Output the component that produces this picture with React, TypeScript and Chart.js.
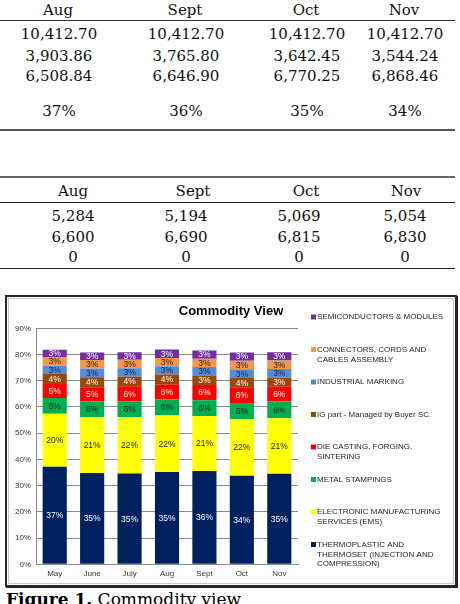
import React, { useEffect, useRef } from "react";
import { Chart, registerables } from "chart.js";

Chart.register(...registerables);

// ---------- Data ----------
const months = ["May", "June", "July", "Aug", "Sept", "Oct", "Nov"];

// bottom -> top of stack
const thermoplastic = [37.2, 34.8, 34.6, 35.2, 35.6, 33.8, 34.5];
const ems = [20.2, 21.3, 21.6, 21.6, 21.0, 21.6, 21.2];
const metalStampings = [6.0, 6.0, 6.0, 6.0, 6.0, 6.1, 6.4];
const dieCasting = [5.4, 5.4, 5.7, 5.7, 5.8, 6.0, 5.6];
const igPart = [3.8, 3.8, 3.6, 3.9, 3.4, 3.5, 3.4];
const industrialMarking = [3.1, 3.4, 3.3, 3.1, 3.4, 3.4, 3.4];
const connectors = [3.2, 3.2, 3.2, 3.2, 3.2, 3.2, 3.2];
const semiconductors = [2.9, 2.9, 2.9, 3.2, 3.1, 3.2, 3.2];

const seriesNames = [
  ["THERMOPLASTIC AND", "THERMOSET (INJECTION AND", "COMPRESSION)"],
  ["ELECTRONIC MANUFACTURING", "SERVICES (EMS)"],
  ["METAL STAMPINGS"],
  ["DIE CASTING, FORGING,", "SINTERING"],
  ["IG part - Managed by Buyer SC."],
  ["INDUSTRIAL MARKING"],
  ["CONNECTORS, CORDS AND", "CABLES ASSEMBLY"],
  ["SEMICONDUCTORS & MODULES"],
];
const seriesValues = [
  thermoplastic,
  ems,
  metalStampings,
  dieCasting,
  igPart,
  industrialMarking,
  connectors,
  semiconductors,
];
const seriesColors = [
  "#002060",
  "#FFFF00",
  "#00B050",
  "#FF0000",
  "#984807",
  "#558ED5",
  "#F79646",
  "#7030A0",
];
const labelColors = [
  "#ffffff",
  "#222222",
  "#1a1a1a",
  "#ffffff",
  "#ffffff",
  "#10204a",
  "#222222",
  "#ffffff",
];

const chartTitle = "Commodity View";
const yTicks = [0, 10, 20, 30, 40, 50, 60, 70, 80, 90];

// Tables above the chart
const tableMonths = ["Aug", "Sept", "Oct", "Nov"];
const table1Rows = [
  ["10,412.70", "10,412.70", "10,412.70", "10,412.70"],
  ["3,903.86", "3,765.80", "3,642.45", "3,544.24"],
  ["6,508.84", "6,646.90", "6,770.25", "6,868.46"],
  ["37%", "36%", "35%", "34%"],
];
const table2Rows = [
  ["5,284", "5,194", "5,069", "5,054"],
  ["6,600", "6,690", "6,815", "6,830"],
  ["0", "0", "0", "0"],
];

const FONT = "'Liberation Sans', Arial, sans-serif";
const SERIF = "'DejaVu Serif', serif";

// canvas origin on page
const CX = 8;
const CY = 297;

const overlayPlugin = {
  id: "overlay",
  afterDatasetsDraw(chart: any) {
    const ctx = chart.ctx;
    ctx.save();
    ctx.textAlign = "center";
    ctx.textBaseline = "middle";
    ctx.font = `8.5px ${FONT}`;
    chart.data.datasets.forEach((ds: any, i: number) => {
      const meta = chart.getDatasetMeta(i);
      meta.data.forEach((el: any, j: number) => {
        const p = el.getProps(["x", "y", "base"], true);
        const v = ds.data[j];
        ctx.fillStyle = labelColors[i];
        ctx.fillText(Math.round(v) + "%", p.x, (p.y + p.base) / 2 + 0.5);
      });
    });
    ctx.restore();
  },
  afterDraw(chart: any) {
    const ctx = chart.ctx;
    ctx.save();
    // title
    ctx.font = `bold 13px ${FONT}`;
    ctx.fillStyle = "#000";
    ctx.textAlign = "center";
    ctx.textBaseline = "middle";
    ctx.fillText(chartTitle, 231 - CX, 311 - CY);
    // legend (top item = top of stack)
    ctx.font = `8px ${FONT}`;
    ctx.textAlign = "left";
    const n = seriesNames.length;
    for (let k = 0; k < n; k++) {
      const idx = n - 1 - k;
      const y0 = 317 - CY + k * 32.5;
      ctx.fillStyle = seriesColors[idx];
      ctx.fillRect(311 - CX, y0 - 2.5, 5, 5);
      ctx.fillStyle = "#262626";
      seriesNames[idx].forEach((line, li) => {
        ctx.fillText(line, 317 - CX, y0 + li * 9.8);
      });
    }
    ctx.restore();
  },
};

function CommodityChart() {
  const ref = useRef<HTMLCanvasElement | null>(null);
  useEffect(() => {
    if (!ref.current) return;
    const chart = new Chart(ref.current, {
      type: "bar",
      data: {
        labels: months,
        datasets: seriesValues.map((vals, i) => ({
          label: seriesNames[i].join(" "),
          data: vals,
          backgroundColor: seriesColors[i],
          borderWidth: 0,
          categoryPercentage: 1,
          barPercentage: 0.645,
        })),
      },
      options: {
        animation: false,
        responsive: false,
        maintainAspectRatio: false,
        layout: { padding: { left: 0, top: 31.3, right: 157, bottom: 0 } },
        plugins: {
          legend: { display: false },
          title: { display: false },
          tooltip: { enabled: false },
        },
        scales: {
          x: {
            stacked: true,
            grid: { display: false, drawTicks: false },
            border: { display: true, color: "#8c8c8c", width: 1 },
            ticks: {
              padding: 5,
              color: "#333",
              font: { family: FONT, size: 8 },
              maxRotation: 0,
              autoSkip: false,
            },
            afterFit: (s: any) => {
              s.height = 20.7;
            },
          },
          y: {
            stacked: true,
            min: 0,
            max: 90,
            afterBuildTicks: (s: any) => {
              s.ticks = yTicks.map((v) => ({ value: v }));
            },
            grid: { color: "#8c8c8c", lineWidth: 1, drawTicks: false },
            border: { display: true, color: "#8c8c8c", width: 1 },
            ticks: {
              padding: 5,
              color: "#333",
              font: { family: FONT, size: 8 },
              callback: (v: any) => v + "%",
            },
            afterFit: (s: any) => {
              s.width = 28;
            },
          },
        },
      },
      plugins: [overlayPlugin],
    });
    return () => chart.destroy();
  }, []);
  return (
    <canvas
      ref={ref}
      width={447}
      height={288}
      style={{ position: "absolute", left: CX, top: CY, width: 447, height: 288 }}
    />
  );
}

const cell = (text: string, x: number, y: number, key: string) => (
  <div
    key={key}
    style={{
      position: "absolute",
      left: x,
      top: y,
      transform: "translate(-50%, -50%)",
      fontFamily: SERIF,
      fontSize: 15,
      lineHeight: "15px",
      whiteSpace: "nowrap",
      color: "#111",
    }}
  >
    {text}
  </div>
);

const hline = (y: number, h: number, color: string, key: string) => (
  <div
    key={key}
    style={{ position: "absolute", left: 0, top: y, width: 455, height: h, background: color }}
  />
);

export default function App() {
  const t1Cols = [59, 186, 307, 405];
  const t1Rows = [34, 55.5, 75.6, 110.5];
  const t2HeadCols = [73, 193, 306, 406];
  const t2Cols = [73, 186, 299, 405];
  const t2Rows = [216, 236.7, 257.3];
  return (
    <div
      style={{
        position: "absolute",
        left: 0,
        top: 0,
        width: 460,
        height: 604,
        overflow: "hidden",
        background: "#fff",
      }}
    >
      {tableMonths.map((m, i) => cell(m, t1Cols[i] - 1, 10, "h1" + i))}
      {hline(20, 1, "#333", "l1")}
      {table1Rows.map((row, r) => row.map((v, c) => cell(v, t1Cols[c], t1Rows[r], `a${r}${c}`)))}
      {hline(128.5, 2, "#555", "l2")}

      {hline(176, 2, "#666", "l3")}
      {tableMonths.map((m, i) => cell(m, t2HeadCols[i], 190.7, "h2" + i))}
      {hline(201.5, 1, "#222", "l4")}
      {table2Rows.map((row, r) => row.map((v, c) => cell(v, t2Cols[c], t2Rows[r], `b${r}${c}`)))}
      {hline(267.5, 1.5, "#222", "l5")}

      <div
        style={{
          position: "absolute",
          left: 5,
          top: 295,
          width: 452,
          height: 292,
          boxSizing: "border-box",
          border: "2px solid #262626",
          boxShadow: "1px 1px 0 #262626",
        }}
      >
        <div
          style={{
            position: "absolute",
            left: 1,
            top: 1,
            right: 1,
            bottom: 1,
            border: "1px solid #c8c8c8",
          }}
        />
      </div>
      <CommodityChart />

      <div
        style={{
          position: "absolute",
          left: 6,
          top: 591,
          fontFamily: SERIF,
          fontSize: 17,
          lineHeight: "17px",
          whiteSpace: "nowrap",
          color: "#000",
        }}
      >
        <b>Figure 1.</b> Commodity view
      </div>
    </div>
  );
}
